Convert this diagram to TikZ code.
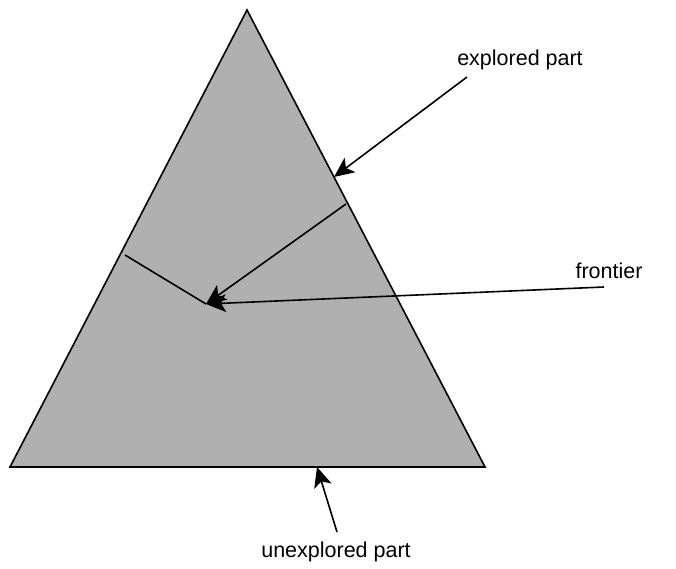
\documentclass[tikz,border=0pt]{standalone}
\usepackage{fontspec}
\setmainfont{Liberation Sans}
\usetikzlibrary{arrows.meta}
\definecolor{explored}{RGB}{176,176,176}
\tikzset{
  edge/.style={line width=1.6pt, line join=miter},
  pointer/.style={line width=1.6pt, -{Stealth[length=20pt, width=18pt, inset=5pt]}},
  label/.style={inner sep=0pt, font=\fontsize{21.5}{25}\selectfont}
}
\begin{document}
\begin{tikzpicture}[x=1pt, y=-1pt]
  \useasboundingbox (0,0) rectangle (676,569);
  % search tree
  \coordinate (apex) at (247,10);
  \coordinate (bl) at (10,467);
  \coordinate (br) at (485,467);
  \filldraw[edge, fill=explored] (apex) -- (bl) -- (br) -- cycle;
  % frontier boundary
  \coordinate (fl) at (125,255);
  \coordinate (fr) at (346,204);
  \coordinate (fm) at (206,304);
  \draw[edge] (fl) -- (fm);
  \draw[pointer] (fr) -- (fm);
  % labels
  \node[label] (exp) at (520,60) {explored part};
  \node[label] (fro) at (609,271) {frontier};
  \node[label] (unexp) at (336,552) {unexplored part};
  \coordinate (expEnd) at (467,77);
  \coordinate (expTip) at (334,177);
  \coordinate (froEnd) at (604,287);
  \coordinate (unexpEnd) at (337,532);
  \coordinate (unexpTip) at (317,467);
  \draw[pointer] (expEnd) -- (expTip);
  \draw[pointer] (froEnd) -- (fm);
  \draw[pointer] (unexpEnd) -- (unexpTip);
\end{tikzpicture}
\end{document}
